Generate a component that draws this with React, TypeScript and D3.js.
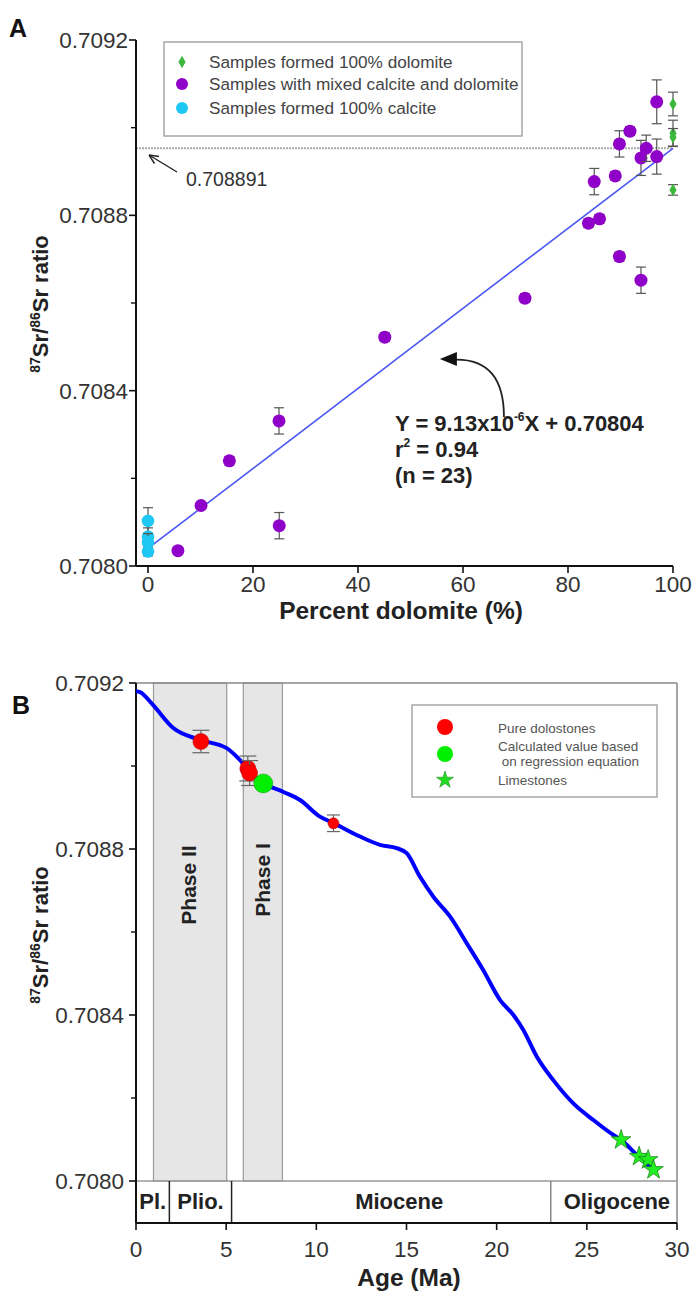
import React from 'react';
import * as d3 from 'd3';

const FONT = "'Liberation Sans', Arial, Helvetica, sans-serif";

// ---------- Panel A data ----------
const dolomiteX = [100, 100, 100, 100];
const dolomiteY = [0.709054, 0.708987, 0.708978, 0.708858];
const dolomiteErr = [0.000027, 0.00003, 0.00002, 0.000012];

const mixedX = [5.7, 10.1, 15.5, 24.95, 25, 45.1, 71.8, 83.9, 86, 85, 89, 89.8, 89.8, 91.8, 93.9, 93.9, 94.9, 96.9, 96.9];
const mixedY = [0.708035, 0.708138, 0.70824, 0.708331, 0.708092, 0.708522, 0.708611, 0.708782, 0.708792, 0.708877, 0.70889, 0.708706, 0.708963, 0.708992, 0.708931, 0.708652, 0.708953, 0.708934, 0.709059];
const mixedErr = [0.000005, 0.000005, 0.00001, 0.00003, 0.00003, 0.00001, 0.00001, 0.00001, 0.00001, 0.00003, 0.00001, 0.00001, 0.00003, 0.00001, 0.00004, 0.00003, 0.00003, 0.00004, 0.00005];

const calciteX = [0, 0, 0, 0];
const calciteY = [0.708103, 0.708067, 0.708054, 0.708033];
const calciteErr = [0.00003, 0.00002, 0.00002, 0.00001];

const regSlope = 9.13e-6;
const regIntercept = 0.70804;
const seawaterMark = 0.708953;

const legendALabels = [
  'Samples formed 100% dolomite',
  'Samples with mixed calcite and dolomite',
  'Samples formed 100% calcite',
];

const yTicksMajor = [0.708, 0.7084, 0.7088, 0.7092];
const yTicksMinor = [0.7082, 0.7086, 0.709];
const xTicksA = [0, 20, 40, 60, 80, 100];

// ---------- Panel B data ----------
const curveAge = [0, 0.22, 0.94, 2.05, 3.55, 5.03, 5.77, 6.32, 7.05, 8.15, 9.1, 10.2, 10.93, 12.42, 13.53, 14.46, 15.01, 15.75, 16.49, 17.42, 18.34, 19.26, 20.19, 20.93, 21.48, 22.22, 23.14, 24.25, 25.36, 26.47, 26.9, 27.95, 28.9];
const curveSr = [0.70918, 0.709178, 0.709147, 0.709092, 0.709063, 0.709043, 0.709014, 0.708986, 0.708959, 0.708938, 0.708918, 0.708878, 0.708863, 0.70883, 0.70881, 0.708802, 0.70879, 0.708733, 0.708685, 0.708637, 0.708573, 0.708508, 0.708436, 0.7084, 0.708364, 0.7083, 0.708243, 0.708187, 0.708147, 0.708111, 0.708099, 0.708055, 0.708022];

const doloAge = [3.6, 6.2, 6.3, 10.95];
const doloSr = [0.709059, 0.708994, 0.708983, 0.708862];
const doloErr = [0.000027, 0.00003, 0.00003, 0.00002];
const doloR = [8, 8, 8, 5.5];

const calcAge = [7.06];
const calcSr = [0.708958];

const limeAge = [26.9, 27.9, 28.4, 28.7];
const limeSr = [0.708099, 0.708059, 0.708051, 0.708027];

const epochNames = ['Pl.', 'Plio.', 'Miocene', 'Oligocene'];
const epochStart = [0, 1.85, 5.3, 23.0];
const epochEnd = [1.85, 5.3, 23.0, 30];

const phaseNames = ['Phase II', 'Phase I'];
const phaseStart = [0.97, 5.95];
const phaseEnd = [5.03, 8.12];

const xTicksB = [0, 5, 10, 15, 20, 25, 30];

const legendBLabels = ['Pure dolostones', 'Calculated value based', ' on regression equation', 'Limestones'];

// ---------- scales ----------
const xA = d3.scaleLinear().domain([0, 100]).range([148, 673]);
const yA = d3.scaleLinear().domain([0.708, 0.7092]).range([566, 40]);
const xB = d3.scaleLinear().domain([0, 30]).range([136, 677]);
const yB = d3.scaleLinear().domain([0.708, 0.7092]).range([1181, 683]);

const AXA = 136; // panel A y-axis x position
const STRIP_BOTTOM = 1223;

function ErrBar({ x, y0, y1, cap, color = '#555' }: { x: number; y0: number; y1: number; cap: number; color?: string }) {
  return (
    <g stroke={color} strokeWidth={1.2}>
      <line x1={x} x2={x} y1={y0} y2={y1} />
      <line x1={x - cap / 2} x2={x + cap / 2} y1={y0} y2={y0} />
      <line x1={x - cap / 2} x2={x + cap / 2} y1={y1} y2={y1} />
    </g>
  );
}

export default function App() {
  const diamond = d3.symbol().type(d3.symbolDiamond).size(45)() as string;
  const star = d3.symbol().type(d3.symbolStar).size(120)() as string;
  const starSmall = d3.symbol().type(d3.symbolStar).size(90)() as string;
  const lineB = d3
    .line<number>()
    .x((_, i) => xB(curveAge[i]))
    .y((d) => yB(d))
    .curve(d3.curveMonotoneX);

  const regX0 = 0;
  const regX1 = 100;

  const purple = '#8f00c9';
  const cyan = '#1fc8f2';
  const green = '#3cb83c';

  const tipX = xA(55.6);
  const tipY = yA(0.708472);
  const tailX = xA(67.8);
  const tailY = yA(0.70834);

  return (
    <svg
      width={694}
      height={1293}
      style={{ position: 'absolute', left: 0, top: 0, background: '#fff' }}
      fontFamily={FONT}
    >
      <rect x={0} y={0} width={694} height={1293} fill="#fff" />
      {/* ================= PANEL A ================= */}
      <text x={9} y={37} fontSize={25} fontWeight="bold" fill="#111">A</text>

      {/* legend A */}
      <rect x={164} y={42} width={358} height={94} fill="#fff" stroke="#999" strokeWidth={1.3} />
      {legendALabels.map((t, i) => {
        const cy = [62, 84, 108][i];
        return (
          <g key={t}>
            {i === 0 && <path d={diamond} transform={`translate(182,${cy})`} fill={green} />}
            {i === 1 && <circle cx={182} cy={cy} r={6} fill={purple} />}
            {i === 2 && <circle cx={182} cy={cy} r={6} fill={cyan} />}
            <text x={209} y={cy} dy="0.35em" fontSize={17.2} fill="#444">{t}</text>
          </g>
        );
      })}

      {/* seawater dashed line */}
      <line x1={AXA} x2={xA(100)} y1={yA(seawaterMark)} y2={yA(seawaterMark)} stroke="#aaa" strokeWidth={2} strokeDasharray="2,1" />
      <text x={186} y={186} fontSize={19.5} fill="#333">0.708891</text>
      <g stroke="#222" strokeWidth={1.4} fill="none">
        <line x1={177} y1={172} x2={149} y2={155} />
        <path d="M149,155 l10,1.5 M149,155 l5.5,8.5" />
      </g>

      {/* regression line */}
      <line
        x1={xA(regX0)}
        y1={yA(regIntercept + regSlope * regX0)}
        x2={xA(regX1)}
        y2={yA(regIntercept + regSlope * regX1)}
        stroke="#4a57f2"
        strokeWidth={1.6}
      />

      {/* axes A */}
      <line x1={AXA} x2={AXA} y1={yA(0.7092)} y2={yA(0.708)} stroke="#111" strokeWidth={2} />
      <line x1={AXA} x2={xA(100)} y1={yA(0.708)} y2={yA(0.708)} stroke="#111" strokeWidth={2} />
      {yTicksMajor.map((v) => (
        <g key={v}>
          <line x1={AXA - 7} x2={AXA} y1={yA(v)} y2={yA(v)} stroke="#111" strokeWidth={1.6} />
          <text x={128} y={yA(v)} dy="0.35em" textAnchor="end" fontSize={22.5} fill="#333">{v.toFixed(4)}</text>
        </g>
      ))}
      {yTicksMinor.map((v) => (
        <line key={v} x1={AXA - 5} x2={AXA} y1={yA(v)} y2={yA(v)} stroke="#111" strokeWidth={1.4} />
      ))}
      {xTicksA.map((v) => (
        <g key={v}>
          <line x1={xA(v)} x2={xA(v)} y1={566} y2={573} stroke="#111" strokeWidth={1.6} />
          <text x={xA(v)} y={592} textAnchor="middle" fontSize={22.5} fill="#333">{v}</text>
        </g>
      ))}
      <text x={401} y={619} textAnchor="middle" fontSize={24.5} fontWeight="bold" fill="#222">Percent dolomite (%)</text>
      <text transform="translate(48,304) rotate(-90)" textAnchor="middle" fontSize={22} fontWeight="bold" fill="#222">
        <tspan fontSize={14} dy={-8}>87</tspan>
        <tspan dy={8}>Sr/</tspan>
        <tspan fontSize={14} dy={-8}>86</tspan>
        <tspan dy={8}>Sr ratio</tspan>
      </text>

      {/* data A: calcite */}
      {calciteX.map((x, i) => (
        <g key={'c' + i}>
          <ErrBar x={xA(x)} y0={yA(calciteY[i] + calciteErr[i])} y1={yA(calciteY[i] - calciteErr[i])} cap={10} />
          <circle cx={xA(x)} cy={yA(calciteY[i])} r={6.3} fill={cyan} />
        </g>
      ))}
      {/* mixed */}
      {mixedX.map((x, i) => (
        <g key={'m' + i}>
          <ErrBar x={xA(x)} y0={yA(mixedY[i] + mixedErr[i])} y1={yA(mixedY[i] - mixedErr[i])} cap={10} />
          <circle cx={xA(x)} cy={yA(mixedY[i])} r={6.5} fill={purple} />
        </g>
      ))}
      {/* dolomite */}
      {dolomiteX.map((x, i) => (
        <g key={'d' + i}>
          <ErrBar x={xA(x)} y0={yA(dolomiteY[i] + dolomiteErr[i])} y1={yA(dolomiteY[i] - dolomiteErr[i])} cap={10} />
          <path d={diamond} transform={`translate(${xA(x)},${yA(dolomiteY[i])})`} fill={green} />
        </g>
      ))}

      {/* curved arrow + equation */}
      <path d={`M${tailX},${tailY} Q${tailX},${tipY} ${tipX + 16},${tipY + 0.5}`} fill="none" stroke="#222" strokeWidth={1.8} />
      <path d={`M${tipX},${tipY} L${tipX + 17},${tipY - 7} L${tipX + 17},${tipY + 7} Z`} fill="#111" />
      <text x={395} y={431} fontSize={22} fontWeight="bold" fill="#222">
        Y = 9.13x10<tspan fontSize={12} dy={-10}>-6</tspan><tspan dy={10}>X + 0.70804</tspan>
      </text>
      <text x={395} y={457} fontSize={22} fontWeight="bold" fill="#222">
        r<tspan fontSize={12} dy={-10}>2</tspan><tspan dy={10}> = 0.94</tspan>
      </text>
      <text x={395} y={483} fontSize={22} fontWeight="bold" fill="#222">(n = 23)</text>

      {/* ================= PANEL B ================= */}
      <text x={12} y={714} fontSize={25} fontWeight="bold" fill="#111">B</text>

      {/* phase bands */}
      {phaseNames.map((p, i) => (
        <g key={p}>
          <rect x={xB(phaseStart[i])} y={yB(0.7092)} width={xB(phaseEnd[i]) - xB(phaseStart[i])} height={yB(0.708) - yB(0.7092)} fill="#e6e6e6" stroke="#9a9a9a" strokeWidth={1.2} />
          <text
            transform={`translate(${(xB(phaseStart[i]) + xB(phaseEnd[i])) / 2 + (i === 0 ? -1 : 0)},${i === 0 ? 885 : 880}) rotate(-90)`}
            textAnchor="middle"
            dy="0.35em"
            fontSize={21}
            fontWeight="bold"
            fill="#222"
          >
            {p}
          </text>
        </g>
      ))}

      {/* box */}
      <line x1={xB(0)} x2={xB(30)} y1={yB(0.7092)} y2={yB(0.7092)} stroke="#888" strokeWidth={1.5} />
      <line x1={xB(30)} x2={xB(30)} y1={yB(0.7092)} y2={STRIP_BOTTOM} stroke="#888" strokeWidth={1.5} />
      <line x1={xB(0)} x2={xB(30)} y1={yB(0.708)} y2={yB(0.708)} stroke="#999" strokeWidth={1.5} />

      {/* epoch strip */}
      {epochNames.map((e, i) => (
        <g key={e}>
          {i > 0 && <line x1={xB(epochStart[i])} x2={xB(epochStart[i])} y1={yB(0.708)} y2={STRIP_BOTTOM} stroke={i === 3 ? '#888' : '#222'} strokeWidth={1.5} />}
          <text x={(xB(epochStart[i]) + xB(epochEnd[i])) / 2 + (i === 2 ? 8 : i === 3 ? 3 : 0)} y={1209} textAnchor="middle" fontSize={22} fontWeight="bold" fill="#222">{e}</text>
        </g>
      ))}

      {/* axes B */}
      <line x1={xB(0)} x2={xB(0)} y1={yB(0.7092)} y2={STRIP_BOTTOM} stroke="#111" strokeWidth={2} />
      <line x1={xB(0)} x2={xB(30)} y1={STRIP_BOTTOM} y2={STRIP_BOTTOM} stroke="#111" strokeWidth={2} />
      {yTicksMajor.map((v) => (
        <g key={'b' + v}>
          <line x1={xB(0) - 7} x2={xB(0)} y1={yB(v)} y2={yB(v)} stroke="#111" strokeWidth={1.6} />
          <text x={124} y={yB(v)} dy="0.35em" textAnchor="end" fontSize={22.5} fill="#333">{v.toFixed(4)}</text>
        </g>
      ))}
      {yTicksMinor.map((v) => (
        <line key={'bm' + v} x1={xB(0) - 5} x2={xB(0)} y1={yB(v)} y2={yB(v)} stroke="#111" strokeWidth={1.4} />
      ))}
      {xTicksB.map((v) => (
        <g key={'bx' + v}>
          <line x1={xB(v)} x2={xB(v)} y1={STRIP_BOTTOM} y2={STRIP_BOTTOM + 7} stroke="#111" strokeWidth={1.6} />
          <text x={xB(v)} y={1257} textAnchor="middle" fontSize={22.5} fill="#333">{v}</text>
        </g>
      ))}
      <text x={409} y={1286} textAnchor="middle" fontSize={24.5} fontWeight="bold" fill="#222">Age (Ma)</text>
      <text transform="translate(48,935) rotate(-90)" textAnchor="middle" fontSize={22} fontWeight="bold" fill="#222">
        <tspan fontSize={14} dy={-8}>87</tspan>
        <tspan dy={8}>Sr/</tspan>
        <tspan fontSize={14} dy={-8}>86</tspan>
        <tspan dy={8}>Sr ratio</tspan>
      </text>

      {/* legend B */}
      <rect x={412} y={705} width={245} height={92} fill="#fff" stroke="#999" strokeWidth={1.3} />
      <circle cx={445} cy={727} r={8} fill="#ff0000" />
      <circle cx={445} cy={754} r={8} fill="#00ee00" />
      <path d={starSmall} transform="translate(445,780)" fill="#22dd22" stroke="#228822" strokeWidth={0.6} />
      {legendBLabels.map((t, i) => (
        <text key={t} x={498} y={[728, 746, 761, 780][i]} dy="0.35em" fontSize={13.5} fill="#555" style={{ whiteSpace: 'pre' }}>{t}</text>
      ))}

      {/* curve */}
      <path d={lineB(curveSr) as string} fill="none" stroke="#0000ff" strokeWidth={4} />

      {/* points B */}
      {doloAge.map((a, i) => (
        <g key={'r' + i}>
          <ErrBar x={xB(a)} y0={yB(doloSr[i] + doloErr[i])} y1={yB(doloSr[i] - doloErr[i])} cap={i === 3 ? 13 : 17} color="#666" />
          <circle cx={xB(a)} cy={yB(doloSr[i])} r={doloR[i]} fill="#ff0000" stroke="#aa0000" strokeWidth={0.5} />
        </g>
      ))}
      {calcAge.map((a, i) => (
        <circle key={'g' + i} cx={xB(a)} cy={yB(calcSr[i])} r={9.5} fill="#00ee00" stroke="#119911" strokeWidth={0.5} />
      ))}
      {limeAge.map((a, i) => (
        <path key={'s' + i} d={star} transform={`translate(${xB(a)},${yB(limeSr[i])})`} fill="#22ee22" stroke="#117711" strokeWidth={0.7} />
      ))}
    </svg>
  );
}
